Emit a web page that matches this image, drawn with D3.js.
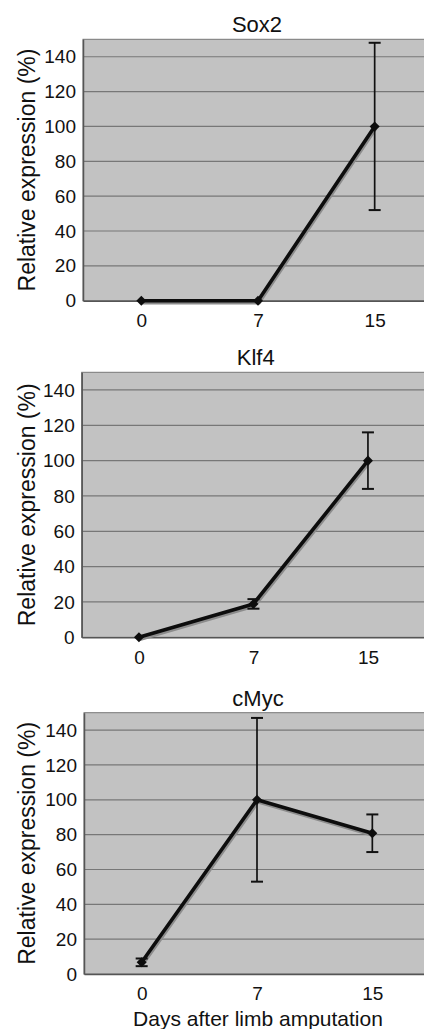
<!DOCTYPE html>
<html>
<head>
<meta charset="utf-8">
<script src="https://cdn.jsdelivr.net/npm/d3@7"></script>
<style>
  body { margin: 0; background: #fff; }
  text { font-family: "Liberation Sans", Arial, sans-serif; fill: #111; }
</style>
</head>
<body>
<div id="chart"></div>
<script>
const days = ['0', '7', '15']
const genes = ['Sox2', 'Klf4', 'cMyc']
const sox2 = [0, 0, 100]
const sox2Err = [0, 0, 48]
const klf4 = [0, 18.9, 100]
const klf4Err = [0, 2.7, 16]
const cmyc = [6.7, 100, 80.8]
const cmycErr = [2.2, 47, 10.8]
const yTicks = [0, 20, 40, 60, 80, 100, 120, 140]

const series = [
  { name: genes[0], values: sox2, errors: sox2Err },
  { name: genes[1], values: klf4, errors: klf4Err },
  { name: genes[2], values: cmyc, errors: cmycErr }
]

// where each panel's plot box sits on the page
const panels = [
  { top: 39.3, left: 83, width: 350, height: 261.4 },
  { top: 372.3, left: 81.7, width: 343.5, height: 265 },
  { top: 712.7, left: 84, width: 346, height: 261.3 }
]

const width = 424
const height = 1029

const svg = d3
  .select('#chart')
  .append('svg')
  .attr('width', width)
  .attr('height', height)

series.forEach((s, i) => {
  const p = panels[i]
  const g = svg
    .append('g')
    .attr('transform', 'translate(' + p.left + ',' + p.top + ')')

  const x = d3.scalePoint().domain(days).range([0, p.width]).padding(0.5)
  const y = d3.scaleLinear().domain([0, 150]).range([p.height, 0])

  g.append('rect')
    .attr('width', p.width)
    .attr('height', p.height)
    .attr('fill', '#c2c2c2')
    .attr('stroke', '#777')
    .attr('stroke-width', 1)

  // gridlines
  g.append('g')
    .selectAll('line')
    .data(yTicks.filter(d => d > 0))
    .join('line')
    .attr('x1', 0)
    .attr('x2', p.width)
    .attr('y1', d => y(d))
    .attr('y2', d => y(d))
    .attr('stroke', '#777')
    .attr('stroke-width', 1.2)

  // y axis
  const yAxis = d3.axisLeft(y).tickValues(yTicks).tickSize(0).tickPadding(7)
  g.append('g')
    .call(yAxis)
    .call(a => a.select('.domain').attr('stroke', '#555').attr('stroke-width', 1.5))
    .selectAll('text')
    .style('font-size', '19px')
    .attr('fill', '#111')

  // x axis
  const xAxis = d3.axisBottom(x).tickSize(0).tickPadding(13)
  g.append('g')
    .attr('transform', 'translate(0,' + p.height + ')')
    .call(xAxis)
    .call(a => a.select('.domain').attr('stroke', '#555').attr('stroke-width', 1.5))
    .selectAll('text')
    .style('font-size', '19px')
    .attr('fill', '#111')

  const pts = days.map((d, j) => ({ day: d, v: s.values[j], e: s.errors[j] }))

  const line = d3
    .line()
    .x(d => x(d.day))
    .y(d => y(d.v))

  // soft shadow under the line
  g.append('path')
    .datum(pts)
    .attr('d', line)
    .attr('transform', 'translate(1,2)')
    .attr('fill', 'none')
    .attr('stroke', '#8c8c8c')
    .attr('stroke-width', 3.5)

  g.append('path')
    .datum(pts)
    .attr('d', line)
    .attr('fill', 'none')
    .attr('stroke', '#0d0d0d')
    .attr('stroke-width', 3.6)
    .attr('stroke-linejoin', 'round')

  // error bars
  const eb = g
    .append('g')
    .selectAll('g')
    .data(pts.filter(d => d.e > 0))
    .join('g')
    .attr('stroke', '#111')
    .attr('stroke-width', 1.7)

  eb.append('line')
    .attr('x1', d => x(d.day))
    .attr('x2', d => x(d.day))
    .attr('y1', d => y(d.v + d.e))
    .attr('y2', d => y(d.v - d.e))
  eb.append('line')
    .attr('x1', d => x(d.day) - 6)
    .attr('x2', d => x(d.day) + 6)
    .attr('y1', d => y(d.v + d.e))
    .attr('y2', d => y(d.v + d.e))
    .attr('stroke-width', 2)
  eb.append('line')
    .attr('x1', d => x(d.day) - 6)
    .attr('x2', d => x(d.day) + 6)
    .attr('y1', d => y(d.v - d.e))
    .attr('y2', d => y(d.v - d.e))
    .attr('stroke-width', 2)

  // diamond markers
  g.append('g')
    .selectAll('path')
    .data(pts)
    .join('path')
    .attr('d', d3.symbol(d3.symbolDiamond2, 64))
    .attr('transform', d => 'translate(' + x(d.day) + ',' + y(d.v) + ')')
    .attr('fill', '#0d0d0d')

  // title
  g.append('text')
    .attr('x', 174)
    .attr('y', -7)
    .attr('text-anchor', 'middle')
    .style('font-size', '22px')
    .text(s.name)

  // y label
  g.append('text')
    .attr('transform', 'translate(' + (27 - p.left) + ',' + p.height / 2 + ') rotate(-90)')
    .attr('text-anchor', 'middle')
    .attr('dy', '0.35em')
    .style('font-size', '23px')
    .text('Relative expression (%)')
})

svg
  .append('text')
  .attr('x', 258)
  .attr('y', 1026)
  .attr('text-anchor', 'middle')
  .style('font-size', '21px')
  .text('Days after limb amputation')
</script>
</body>
</html>
